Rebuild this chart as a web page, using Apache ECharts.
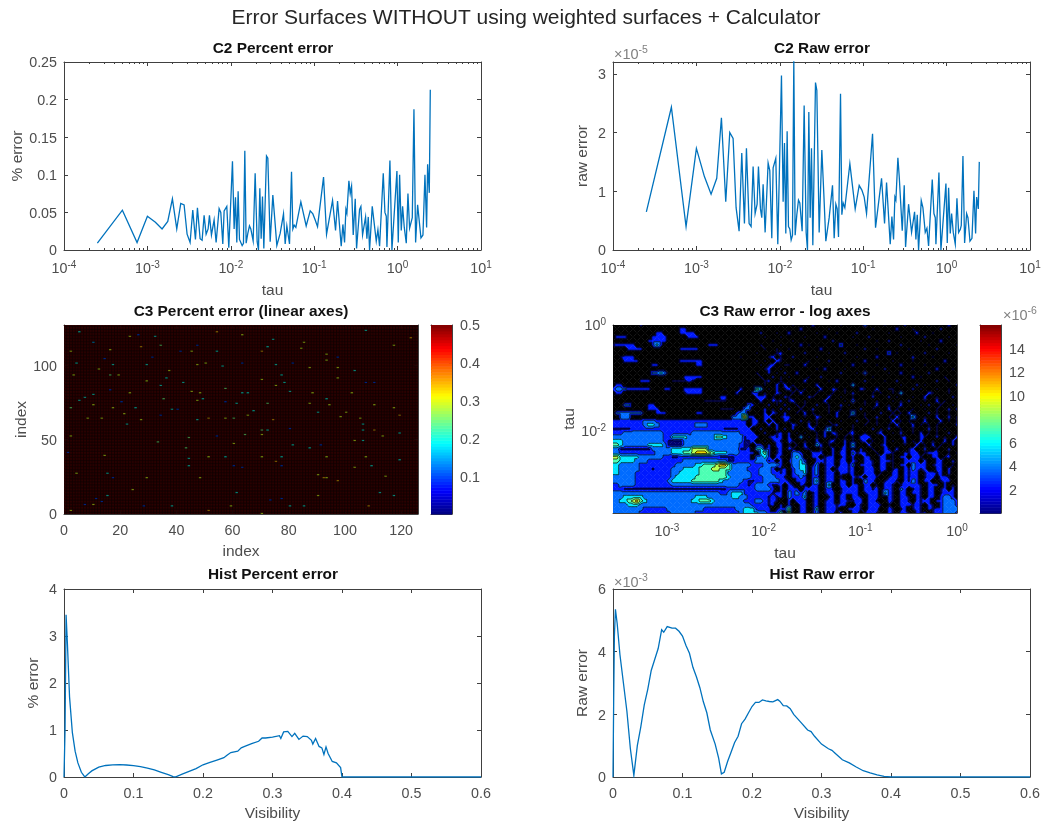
<!DOCTYPE html>
<html><head><meta charset="utf-8">
<script src="https://cdn.jsdelivr.net/npm/echarts@6/dist/echarts.min.js"></script>
<style>html,body{margin:0;background:#fff}#main{width:1044px;height:826px;filter:blur(0.45px)}</style>
</head><body><div id="main"></div>
<script>
// ---- C2 curves: log10(tau), percent error, raw error (x 1e-5)
const c2TauExp=[-3.6,-3.3,-3.124,-3,-2.904,-2.824,-2.756,-2.7,-2.648,-2.6,-2.56,-2.524,-2.488,-2.456,-2.424,-2.4,
-2.368,-2.344,-2.32,-2.296,-2.272,-2.256,-2.232,-2.216,-2.2,-2.176,-2.14,-2.12,-2.096,-2.08,-2.064,-2.048,-2.024,
-1.98,-1.96,-1.944,-1.928,-1.912,-1.896,-1.88,-1.864,-1.848,-1.832,-1.816,-1.796,-1.776,-1.76,-1.732,-1.708,-1.684,-1.668,-1.652,-1.636,
-1.62,-1.604,-1.572,-1.556,-1.528,-1.496,-1.472,-1.448,-1.408,-1.368,-1.348,-1.328,-1.312,-1.296,-1.272,-1.256,-1.24,-1.22,-1.16,-1.096,
-1.048,-1.016,-0.988,-0.96,-0.888,-0.852,-0.78,-0.744,-0.72,-0.676,-0.656,-0.636,-0.62,-0.608,-0.584,-0.568,-0.552,-0.532,-0.508,-0.492,
-0.456,-0.44,-0.42,-0.404,-0.384,-0.368,-0.352,-0.336,-0.304,-0.284,-0.256,-0.236,-0.216,-0.172,-0.152,-0.136,-0.128,-0.092,-0.068,-0.048,
-0.008,0.008,0.024,0.044,0.06,0.08,0.104,0.124,0.144,0.164,0.176,0.196,0.216,0.24,0.256,0.28,0.304,0.328,0.348,0.36,0.38,0.392];
const c2Percent=[.009,.053,.010,.045,.037,.028,.038,.068,.028,.062,.060,.021,.010,.053,.014,.056,
.015,.013,.046,.021,.028,.046,.020,.018,.040,.010,.055,.050,.008,.052,.050,.058,.003,
.118,.028,.070,.010,.078,.014,.012,.006,.009,.132,.009,.022,.032,.028,.012,.102,.011,0,.082,.015,
.071,.002,.125,.122,.011,.073,.040,.006,.022,.048,.008,.032,.030,.008,.104,.028,.033,.030,.064,.032,
.052,.048,.040,.031,.097,.021,.066,.026,.065,.005,.034,.010,.054,.049,.092,.075,.085,.020,.068,.002,
.054,.058,.020,.022,.044,.015,.044,0,.058,.058,.012,.027,.005,.102,.050,.045,.004,.119,0,0,
.105,.010,.100,.026,.058,.030,.009,.075,.029,.031,.043,.187,.010,.060,.058,.016,.020,.100,.030,.114,.076,.213];
const c2Raw=[.65,2.43,.40,1.73,1.25,.95,1.22,2.25,.82,2.0,1.9,.72,.32,1.65,.45,1.73,
.45,.40,1.42,.62,.78,1.42,.70,.55,1.12,.30,1.48,1.35,.20,1.40,1.38,1.56,.10,
2.97,.82,1.82,.28,2.02,.40,.36,.17,.25,3.25,.25,.60,.85,.80,.32,2.46,.30,0,2.35,.55,
1.73,.08,2.85,2.72,.30,1.70,.95,.15,.55,1.10,.20,.78,.70,.22,2.66,.60,.80,.72,1.47,.70,
1.10,1.02,.90,.62,1.98,.38,1.22,.45,1.15,.10,.57,.18,.90,.85,1.57,1.25,1.22,.33,1.10,.05,
.78,.80,.30,.33,.65,.18,.60,0,.84,.72,.30,.37,.07,1.20,.62,.55,.10,1.32,0,0,
1.13,.12,1.06,.28,.62,.30,.10,.88,.30,.35,.42,1.60,.12,.62,.55,.15,.20,1.01,.28,.90,.70,1.50];

// ---- Histograms
const histPctVis=[0,.0015,.003,.005,.008,.012,.016,.02,.025,.03,.035,.04,.05,.06,.07,.08,.09,.1,.11,.12,.13,.14,.15,.157,.16,.17,.18,.19,.2,.21,.22,.23,.235,.24,.25,.255,.26,.27,.28,.285,.29,.3,.31,.312,.316,.322,.328,.332,.338,.344,.35,.356,.358,.362,.367,.371,.374,.377,.38,.386,.392,.398,.4,.6];
const histPct=[0,1.0,3.45,2.8,1.7,.95,.55,.3,.1,0,.07,.13,.21,.245,.26,.265,.255,.24,.22,.19,.15,.10,.05,.01,0,.06,.12,.18,.26,.31,.36,.41,.47,.52,.55,.62,.65,.71,.76,.83,.83,.85,.88,.82,.96,.97,.86,.93,.8,.87,.86,.78,.7,.82,.65,.62,.48,.64,.5,.33,.3,.2,0,0];
const histRawVis=[0,.001,.002,.0035,.006,.01,.015,.02,.025,.03,.035,.04,.045,.05,.055,.06,.065,.07,.073,.078,.085,.09,.095,.1,.105,.11,.115,.12,.125,.13,.135,.14,.147,.152,.156,.16,.165,.17,.175,.18,.185,.19,.195,.2,.205,.21,.215,.22,.225,.23,.237,.24,.245,.25,.255,.26,.27,.28,.285,.29,.3,.31,.315,.32,.33,.34,.35,.36,.37,.38,.39,.4,.6];
const histRaw=[0,2.5,4.5,5.35,4.9,3.9,3.0,2.1,.9,.05,1.0,1.6,2.3,2.8,3.4,3.75,4.1,4.7,4.62,4.8,4.75,4.75,4.65,4.5,4.2,3.95,3.5,3.2,2.85,2.4,2.05,1.5,1.05,.6,.1,.15,.5,.8,1.1,1.3,1.7,1.85,2.05,2.25,2.38,2.38,2.46,2.43,2.41,2.4,2.47,2.42,2.28,2.27,2.18,2.0,1.75,1.5,1.45,1.3,1.05,.9,.85,.75,.55,.45,.32,.2,.13,.07,.02,0,0];

// ---- C3 percent error: cells sit at the ceiling except for these [index x, index y, value]
const percentCeiling=0.5;
const percentSpecks=[[5,122,.2],[10,115,.15],[23,119,.3],[32,119,.2],[26,120,.1],[54,122,.35],[63,120,.3],[74,117,.2],[85,115,.3],[97,105,.1],[107,123,.2],[123,118,.35],[115,127,.2],[16,110,.3],[27,112,.35],[34,113,.25],[41,109,.1],[45,109,.3],[47,113,.1],[54,109,.2],[70,109,.35],[72,112,.2],[84,111,.3],[93,107,.3],[117,113,.3],[2,109,.3],[4,101,.2],[14,104,.1],[17,100,.2],[29,100,.2],[31,105,.1],[37,96,.3],[47,100,.3],[50,101,.3],[56,99,.2],[63,101,.1],[75,100,.2],[81,101,.1],[87,98,.3],[93,103,.3],[97,98,.3],[103,96,.2],[16,93,.25],[12,97,.3],[3,93,.3],[19,93,.3],[29,89,.3],[36,91,.2],[42,88,.2],[34,86,.2],[45,82,.3],[48,81,.3],[57,84,.25],[65,81,.2],[63,81,.2],[70,90,.3],[75,86,.3],[78,88,.2],[77,93,.2],[80,82,.2],[88,81,.3],[97,91,.3],[102,81,.3],[107,88,.1],[110,88,.1],[10,80,.2],[16,83,.1],[23,81,.3],[5,76,.2],[7,78,.2],[10,73,.3],[2,71,.25],[17,71,.3],[20,75,.1],[25,71,.2],[35,77,.25],[40,70,.1],[38,70,.2],[47,76,.3],[49,77,.2],[57,75,.1],[61,74,.2],[67,69,.2],[72,74,.25],[87,74,.3],[93,77,.2],[94,73,.3],[100,68,.3],[110,73,.3],[117,71,.3],[8,64,.3],[13,64,.3],[21,67,.3],[27,63,.3],[22,60,.2],[34,66,.1],[47,63,.2],[51,64,.35],[57,64,.3],[60,64,.25],[65,66,.3],[74,63,.35],[90,68,.2],[98,65,.3],[106,60,.2],[105,64,.3],[119,66,.35],[106,56,.2],[110,56,.35],[70,56,.25],[72,56,.2],[80,57,.1],[64,53,.25],[70,53,.3],[54,52,.1],[44,51,.25],[33,48,.25],[2,52,.3],[113,52,.3],[119,54,.2],[106,49,.2],[103,49,.3],[81,46,.2],[87,44,.2],[91,46,.1],[43,44,.25],[60,47,.3],[1,41,.1],[44,37,.2],[51,38,.3],[57,38,.2],[70,38,.3],[75,35,.35],[77,38,.2],[14,39,.3],[93,38,.3],[107,38,.3],[119,36,.2],[44,32,.2],[60,32,.1],[63,31,.1],[77,32,.1],[109,32,.2],[103,31,.3],[15,27,.2],[4,27,.3],[48,24,.3],[90,26,.3],[92,24,.35],[93,24,.3],[97,22,.35],[29,24,.3],[17,24,.1],[114,25,.3],[24,16,.3],[61,14,.2],[90,12,.3],[112,14,.2],[117,12,.2],[15,12,.2],[11,10,.1],[73,9,.1],[38,5,.2],[85,5,.2],[2,2,.3],[7,6,.1],[59,5,.3],[10,6,.3],[108,5,.35],[51,2,.35],[70,0,.3],[28,5,.1],[13,8,.1],[77,10,.1],[80,5,.2]];

// ---- C3 raw error: band code at each node of a log-spaced tau/tau grid (top row = tau 1)
const rawRows=[
"00000002000000000000000000000000000000000000"+"0100002000000100000300001000020000010000200",
"00000000000000000220000000000000000000000000"+"0002000000100000000001000002000100000020000",
"00000000000220000222200000000000000002000100"+"2000000100001000020000000100000020001000000",
"02220000002222000002220000000000000000100010"+"0000100002000000100020000000100000200000100",
"00000000022222000000000000000000000000001000"+"0100000000020000000000100200000001000020000",
"12222200002420000000000022200000000001000010"+"0002010000000300010000000000200000010000001",
"00002222000000000222220000000000000000100100"+"1000000020000000000200100000001000000200000",
"00000000000000000000000000000000000010000120"+"0000200000100020000000000301000000200000100",
"00122200000000000000000000000000100000012010"+"0200000100000000010000200000000200001000000",
"00022220000000000222222000000000000010100210"+"0000010000200100000200000010000100000002000",
"00000000002200000000022000000000000001012001"+"1000200000000000200000100000200000100000000",
"00000000000000000000000000000000000000120010"+"0000000102000010000000002000000100000200010",
"00000000003343000000000000000000000010020102"+"0020000000000200010300000100200000020000000",
"00000000000000000022222000000000000001002010"+"1000010020000000000001000000000201000001000",
"00000002220000011112100000000000000000120010"+"0000200000102000000200001002000000000200100",
"02200000000000000000000000000000000000100202"+"0100000200000000400000000000100020100000002",
"23332222220002200022222000001000200054010201"+"2010100020021010002100200110000201000100100",
"02200000000000000012222000000002000220100210"+"0102000100010010200001010010400000021000100",
"00000000000000000000000000022000000022201002"+"1000021000200100100002000201000100200100020",
"00000000000000000000000111111000000002002120"+"1200100002000010300100100010102000100201000",
"00033000022000000000000000000000003200020102"+"0010100200100201000100200100200001020010010",
"00000000022200000000000000011110033000201020"+"2001002000100100002001000201000100100100202",
"03333333000222000000022000000002330000202102"+"0010201000102000400100020010102000020100100",
"00333000000000000000000000000033372200220012"+"2000100210002001000100200102000410100200201",
"22222222333222222222222222222222220220202002"+"1002010100100100020010100020101000200020101",
"22222222344322222222233322222222220210020200"+"0210020100012000100100100102000201010100002",
"11111222222222222222222222221111222002000202"+"0200012001400100100002010200100100020101000",
"22233333333332222222333333333333222200200120"+"2010100102021001200100120010200102010100200",
"33333333333332244443333333554333312220012120"+"2004010102001010102220002000120002100201002",
"44433333333332111133333333333333311200101210"+"2100100200120020101201002010020102001002020",
"55433333344443111133333333333333211022020220"+"1010200420100020400020012000010020102010020",
"33111111113333344444666633333333112044120120"+"2100110010020120102001002102001200200100200",
"33222222222333344455677765444333222204520120"+"0332002220020220312200102210021220122200101",
"66444443333332211222222222211112222033420210"+"0343002201220120200220022010220221002201200",
"55444433322222222233333333333112222233312020"+"1334200221220220210221022210022220200220020",
"44333332222222223333344555677533333222333320"+"0334401301220221302221022010220322201220010",
"44333332221222233344445556655533332223332012"+"0234402301201221200222022012021321200220200",
"44333322222222233444445555555333333223332212"+"0233402301220221200222010022021220122120200",
"33333322222222234444455555555433333222333221"+"0223202201220100212022100122021220122022100",
"33333322222222344444555555543333321122333322"+"1022202401220220200322001221021320220012200",
"22333322222222233333333333333333221233321120"+"2102102201400220220220102210122221022202010",
"22211111111111111111111111111222222233332020"+"2220222201210122220221202210320121022012020",
"33333333333333333333333333322344422222221220"+"3232301201220122220122204210220221022012220",
"33344444333333333333344433333344332222212120"+"3222401200120220221022200210221021022023320",
"33445675433333333333445554333333322233212100"+"2022201201220221122022100210221021220223332",
"33334443333333333333333333333333333222212020"+"2002201201221220021022210100222121021023332",
"33333333222222333333333222222223344422220122"+"5002201401221002221022200210120121021223333",
"33333332222222233333322222222222344443322250"+"6002201301220200220122100210221021201223332"];
const rawBandValues=[0,1.5,2.4,3.7,5.6,7.2,8.8,10.4,12];
const rawBandEdges=[1.2,1.7,3.0,4.8,6.4,8,9.6,11.2];

const rawTauMin=Math.pow(10,-3.557);
const FONT='"Liberation Sans",Arial,sans-serif', INK='#4d4d4d', LINE='#0072BD';

function jetRGB(t){t=Math.max(0,Math.min(1,t));
 const f=(c)=>Math.round(255*Math.max(0,Math.min(1,1.5-Math.abs(4*t-c))));
 return [f(3),f(2),f(1)];}
const jet=t=>`rgb(${jetRGB(t).join(',')})`;
const dimJet=(t,k)=>`rgb(${jetRGB(t).map(c=>Math.round(c*k)).join(',')})`;

const sup={b:{fontSize:14.3,color:INK,fontFamily:FONT},s:{fontSize:10,color:INK,fontFamily:FONT,padding:[0,0,8,0]}};
const logFmt=v=>{const e=Math.log10(v);return Math.abs(e-Math.round(e))<1e-6?`{b|10}{s|${Math.round(e)}}`:'';};

const boxes=[
 {l:64,t:62,w:417,h:188},{l:613,t:62,w:417,h:188},
 {l:64,t:325,w:354,h:189},{l:613,t:325,w:344,h:188},
 {l:64,t:589,w:417,h:188},{l:613,t:589,w:417,h:188},
 {l:431,t:325,w:21,h:189},{l:980,t:325,w:21,h:188}];
const grid=boxes.map((b,i)=>({left:b.l,top:b.t,width:b.w,height:b.h,containLabel:false,show:i===2,backgroundColor:'#000',borderWidth:0}));
const xAxis=[],yAxis=[];
function axisPair(arr,i,o,primaryPos,otherPos){
 const base={gridIndex:i,nameLocation:'middle',silent:true,splitLine:{show:false},
  axisLine:{show:true,onZero:false,lineStyle:{color:'#404040',width:1}},
  axisTick:{show:true,inside:true,length:4,lineStyle:{color:'#404040'}},
  minorTick:{show:false},
  nameTextStyle:{fontFamily:FONT,fontSize:15.5,color:INK}};
 const lab={show:o.noLabel?false:true,fontFamily:FONT,fontSize:14.3,color:INK,margin:o.margin||7,rich:sup,formatter:o.fmt,showMinLabel:true,showMaxLabel:true,hideOverlap:false};
 if(arr===yAxis) lab.padding=[3,0,0,0];
 if(o.labelValues) lab.customValues=o.labelValues;
 const common={type:o.type,min:o.min,max:o.max};
 if(o.interval!=null) common.interval=o.interval;
 if(o.type==='log'){common.logBase=10;}
 const tick=Object.assign({},base.axisTick,o.tickValues?{customValues:o.tickValues}:{});
 const minor=o.minor?{show:true,length:2,splitNumber:9,lineStyle:{color:'#404040'}}:{show:false};
 arr.push(Object.assign({},base,common,{position:primaryPos,name:o.name||'',nameGap:o.gap,axisLabel:lab,axisTick:tick,minorTick:minor}));
 arr.push(Object.assign({},base,common,{position:otherPos,axisLabel:{show:false},axisTick:tick,minorTick:minor}));
}
const fmtX=v=>String(Math.round(v*1000)/1000);
const multFmt=step=>v=>{const q=v/step;return Math.abs(q-Math.round(q))<1e-6?String(Math.round(v*1000)/1000):'';};
// A, B
axisPair(xAxis,0,{type:'log',min:1e-4,max:10,fmt:logFmt,name:'tau',gap:33,minor:true,margin:10},'bottom','top');
axisPair(yAxis,0,{type:'value',min:0,max:.25,interval:.05,fmt:multFmt(.05),name:'% error',gap:35},'left','right');
axisPair(xAxis,1,{type:'log',min:1e-4,max:10,fmt:logFmt,name:'tau',gap:33,minor:true,margin:10},'bottom','top');
axisPair(yAxis,1,{type:'value',min:0,max:3.2,interval:1,fmt:multFmt(1),name:'raw error',gap:22},'left','right');
// C
axisPair(xAxis,2,{type:'value',min:0,max:126,interval:20,fmt:multFmt(20),name:'index',gap:30,margin:10},'bottom','top');
axisPair(yAxis,2,{type:'value',min:0,max:127,interval:50,fmt:multFmt(50),name:'index',gap:29},'left','right');
// D
axisPair(xAxis,3,{type:'log',min:rawTauMin,max:1,fmt:logFmt,name:'tau',gap:33,margin:10,labelValues:[1e-3,1e-2,1e-1,1],tickValues:[1e-3,1e-2,1e-1,1]},'bottom','top');
axisPair(yAxis,3,{type:'log',min:rawTauMin,max:1,fmt:logFmt,name:'tau',gap:30,labelValues:[1e-2,1],tickValues:[1e-2,1]},'left','right');
// E, F
axisPair(xAxis,4,{type:'value',min:0,max:.6,interval:.1,fmt:fmtX,name:'Visibility',gap:29,margin:10},'bottom','top');
axisPair(yAxis,4,{type:'value',min:0,max:4,interval:1,fmt:multFmt(1),name:'% error',gap:22},'left','right');
axisPair(xAxis,5,{type:'value',min:0,max:.6,interval:.1,fmt:fmtX,name:'Visibility',gap:29,margin:10},'bottom','top');
axisPair(yAxis,5,{type:'value',min:0,max:6,interval:2,fmt:multFmt(2),name:'Raw error',gap:22},'left','right');
// colourbars
axisPair(xAxis,6,{type:'value',min:0,max:1,noLabel:true,interval:1},'bottom','top');
axisPair(yAxis,6,{type:'value',min:0,max:.5,interval:.1,fmt:v=>(v>0?String(Math.round(v*10)/10):''),margin:8},'right','left');
axisPair(xAxis,7,{type:'value',min:0,max:1,noLabel:true,interval:1},'bottom','top');
axisPair(yAxis,7,{type:'value',min:0,max:16,interval:2,fmt:v=>(v>0&&v<16?String(v):''),margin:8},'right','left');
[12,13,14,15].forEach(i=>{xAxis[i].axisTick={show:false};xAxis[i].axisLabel={show:false};});
[12,13,14,15].forEach(i=>{yAxis[i].axisTick=(i%2===0)?{show:true,inside:true,length:3,lineStyle:{color:'#404040'}}:{show:false};});

const lineSeries=(i,data)=>({type:'line',xAxisIndex:i*2,yAxisIndex:i*2,data,showSymbol:false,symbol:'none',
 lineStyle:{color:LINE,width:1.3,join:'miter',miterLimit:10},smooth:false,clip:true,silent:true,animation:false});
const zip=(a,b)=>a.map((v,i)=>[v,b[i]]);
const tau=c2TauExp.map(e=>Math.pow(10,e));

// heat cells
const specks=new Map(percentSpecks.map(s=>[s[0]+','+s[1],s[2]]));
const percentCells=[];
for(let i=0;i<126;i++)for(let j=0;j<127;j++){
 const v=specks.has(i+','+j)?specks.get(i+','+j):percentCeiling;
 percentCells.push([i,j,v]);
}
// raw contour nodes
const nCols=rawRows[0].length, nRows=rawRows.length;
const nodeZ=rawRows.map(r=>Array.from({length:nCols},(_,c)=>rawBandValues[+(r[c]||0)]));
const expMin=Math.log10(rawTauMin);
const quads=[];
for(let r=0;r<nRows-1;r++)for(let c=0;c<nCols-1;c++)
 quads.push([Math.pow(10,expMin*(1-c/(nCols-1))),Math.pow(10,expMin*r/(nRows-1)),c,r]);

function clipPoly(poly,lev,above){
 const out=[];
 for(let i=0;i<poly.length;i++){
  const a=poly[i],b=poly[(i+1)%poly.length];
  const ina=above?a[2]>=lev:a[2]<=lev, inb=above?b[2]>=lev:b[2]<=lev;
  if(ina)out.push(a);
  if(ina!==inb){const t=(lev-a[2])/(b[2]-a[2]);out.push([a[0]+t*(b[0]-a[0]),a[1]+t*(b[1]-a[1]),lev]);}
 }
 return out;
}
const bandColor=k=>k===0?'#000':(k===1?'#000070':jet(rawBandValues[k]/16));
function triangleShapes(tri,kids){
 const zs=tri.map(p=>p[2]);const lo=Math.min(...zs),hi=Math.max(...zs);
 for(let k=0;k<=rawBandEdges.length;k++){
  const a=k===0?-1e9:rawBandEdges[k-1], b=k===rawBandEdges.length?1e9:rawBandEdges[k];
  if(hi<a||lo>b)continue;
  let p=tri; if(lo<a)p=clipPoly(p,a,true); if(p.length&&hi>b)p=clipPoly(p,b,false);
  if(p.length>2){const col=bandColor(k);kids.push({type:'polygon',shape:{points:p.map(q=>[q[0],q[1]])},style:{fill:col,stroke:col,lineWidth:.4},silent:true});}
 }
 rawBandEdges.forEach(l=>{
  if(lo<l&&hi>l){const pts=[];
   for(let i=0;i<3;i++){const a=tri[i],b=tri[(i+1)%3];
    if((a[2]-l)*(b[2]-l)<0){const t=(l-a[2])/(b[2]-a[2]);pts.push([a[0]+t*(b[0]-a[0]),a[1]+t*(b[1]-a[1])]);}}
   if(pts.length===2)kids.push({type:'line',shape:{x1:pts[0][0],y1:pts[0][1],x2:pts[1][0],y2:pts[1][1]},style:{stroke:'#000',lineWidth:.7},silent:true,z2:5});
  }
 });
}
const jetSteps=Array.from({length:64},(_,i)=>i);

const series=[
 lineSeries(0,zip(tau,c2Percent)),
 lineSeries(1,zip(tau,c2Raw)),
 {type:'custom',xAxisIndex:4,yAxisIndex:4,data:percentCells,encode:{x:0,y:1},silent:true,animation:false,progressive:0,clip:true,
  renderItem:(p,api)=>{const i=api.value(0),j=api.value(1),v=api.value(2);
   const a=api.coord([i,j+1]),b=api.coord([i+1,j]);
   const dim=v<percentCeiling?.6:.4;
   return {type:'rect',shape:{x:a[0],y:a[1],width:b[0]-a[0],height:b[1]-a[1]},style:{fill:dimJet(v/percentCeiling,dim),stroke:'#000',lineWidth:.25},silent:true};}},
 {type:'custom',xAxisIndex:6,yAxisIndex:6,data:quads,encode:{x:0,y:1},silent:true,animation:false,progressive:0,clip:true,
  renderItem:(p,api)=>{const c=api.value(2),r=api.value(3);
   const pt=(cc,rr)=>{const q=api.coord([Math.pow(10,expMin*(1-cc/(nCols-1))),Math.pow(10,expMin*rr/(nRows-1))]);return [q[0],q[1],nodeZ[rr][cc]];};
   const A=pt(c,r),B=pt(c+1,r),C=pt(c+1,r+1),D=pt(c,r+1),kids=[];
   if((c+r)%2===0){triangleShapes([A,B,C],kids);triangleShapes([A,C,D],kids);}
   else{triangleShapes([A,B,D],kids);triangleShapes([B,C,D],kids);}
   return {type:'group',children:kids};}},
 lineSeries(4,zip(histPctVis,histPct)),
 lineSeries(5,zip(histRawVis,histRaw)),
 {type:'custom',xAxisIndex:12,yAxisIndex:12,data:jetSteps.map(s=>[0,s]),encode:{y:1},silent:true,animation:false,
  renderItem:(p,api)=>{const s=api.value(1);const a=api.coord([0,.5*(s+1)/64]),b=api.coord([1,.5*s/64]);
   return {type:'rect',shape:{x:a[0],y:a[1],width:b[0]-a[0],height:b[1]-a[1]+.5},style:{fill:jet((s+.5)/64)},silent:true};}},
 {type:'custom',xAxisIndex:14,yAxisIndex:14,data:jetSteps.map(s=>[0,s]),encode:{y:1},silent:true,animation:false,
  renderItem:(p,api)=>{const s=api.value(1);const a=api.coord([0,16*(s+1)/64]),b=api.coord([1,16*s/64]);
   return {type:'rect',shape:{x:a[0],y:a[1],width:b[0]-a[0],height:b[1]-a[1]+.5},style:{fill:jet((s+.5)/64)},silent:true};}}
];

const capt=(text,x,y)=>({text,left:x,top:y,textAlign:'center',padding:0,textStyle:{fontFamily:FONT,fontSize:15.4,fontWeight:'bold',color:'#111'}});
const mult=(e,x,y)=>({text:`{m|\u00d710}{s|${e}}`,left:x,top:y,padding:0,textStyle:{fontWeight:'normal',rich:{m:{fontFamily:FONT,fontSize:14.5,fontWeight:'normal',color:'#808080'},s:{fontFamily:FONT,fontSize:10.5,fontWeight:'normal',color:'#808080',padding:[0,0,8,0]}}}});
const title=[
 {text:'Error Surfaces WITHOUT using weighted surfaces + Calculator',left:526,top:8,textAlign:'center',padding:0,textStyle:{fontFamily:FONT,fontSize:21,fontWeight:'normal',color:'#262626'}},
 capt('C2 Percent error',273,41),capt('C2 Raw error',822,41),
 capt('C3 Percent error (linear axes)',241,304),capt('C3 Raw error - log axes',785,304),
 capt('Hist Percent error',273,567),capt('Hist Raw error',822,567),
 mult(-5,614,45),mult(-6,1003,306),mult(-3,614,573)
];

const chart=echarts.init(document.getElementById('main'),null,{renderer:'canvas'});
chart.setOption({animation:false,backgroundColor:'#fff',title,grid,xAxis,yAxis,series,tooltip:{show:false}});
</script></body></html>
